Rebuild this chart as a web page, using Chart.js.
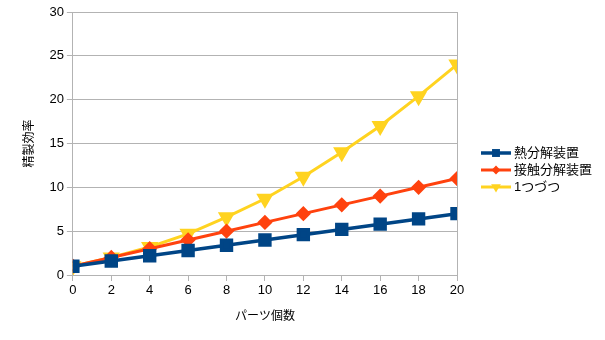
<!DOCTYPE html>
<html>
<head>
<meta charset="utf-8">
<script src="https://cdn.jsdelivr.net/npm/chart.js@4/dist/chart.umd.min.js"></script>
<style>
  html, body { margin: 0; padding: 0; background: #fff; }
  #wrap { width: 605px; height: 340px; }
</style>
</head>
<body>
<div id="wrap"><canvas id="myChart" width="605" height="340"></canvas></div>
<script>
// パーツ個数ごとの精製効率
var partCounts = [0, 2, 4, 6, 8, 10, 12, 14, 16, 18, 20];
var netsuBunkai = [1, 1.6, 2.2, 2.8, 3.4, 4, 4.6, 5.2, 5.8, 6.4, 7];
var sesshokuBunkai = [1, 2, 3, 4, 5, 6, 7, 8, 9, 10, 11];
var hitotsuzutsu = [1, 2, 3.2, 4.7, 6.6, 8.7, 11.2, 14, 17, 20.4, 24];
var seriesNames = ['熱分解装置', '接触分解装置', '1つづつ'];
var yTicks = [0, 5, 10, 15, 20, 25, 30];

const gridGray = '#b3b3b3';
const fontFamily = '"Liberation Sans", "Noto Sans CJK JP", sans-serif';

function toPoints(values) {
    return values.map(function (v, i) { return { x: partCounts[i], y: v }; });
}

const data = {
    datasets: [{
        label: seriesNames[0],
        data: toPoints(netsuBunkai),
        borderColor: '#004586',
        backgroundColor: '#004586',
        borderWidth: 3.5,
        pointStyle: 'rect',
        pointRadius: 7,
        pointHoverRadius: 7
    }, {
        label: seriesNames[1],
        data: toPoints(sesshokuBunkai),
        borderColor: '#ff420e',
        backgroundColor: '#ff420e',
        borderWidth: 3,
        pointStyle: 'rectRot',
        pointRadius: 5.5,
        pointHoverRadius: 5.5
    }, {
        label: seriesNames[2],
        data: toPoints(hitotsuzutsu),
        borderColor: '#ffd320',
        backgroundColor: '#ffd320',
        borderWidth: 3,
        pointStyle: 'triangle',
        rotation: 180,
        pointRadius: 7,
        pointHoverRadius: 7
    }]
};

// 右側の凡例 (線 + マーカー)
const sideLegend = {
    id: 'sideLegend',
    afterDraw(chart) {
        const ctx = chart.ctx;
        const x0 = 481, lineLen = 30, rowY = [153, 170, 187];
        ctx.save();
        ctx.font = '13px ' + fontFamily;
        ctx.textBaseline = 'middle';
        chart.data.datasets.forEach(function (ds, i) {
            const y = rowY[i];
            ctx.strokeStyle = ds.borderColor;
            ctx.lineWidth = ds.borderWidth;
            ctx.beginPath();
            ctx.moveTo(x0, y);
            ctx.lineTo(x0 + lineLen, y);
            ctx.stroke();
            ctx.fillStyle = ds.backgroundColor;
            Chart.helpers.drawPoint(ctx, {
                pointStyle: ds.pointStyle,
                rotation: ds.rotation || 0,
                radius: ds.pointRadius * 0.8,
                borderWidth: 0
            }, x0 + lineLen / 2, y);
            ctx.fillStyle = '#000';
            ctx.fillText(ds.label, x0 + lineLen + 3, y);
        });
        ctx.restore();
    }
};

const config = {
    type: 'line',
    data,
    options: {
        responsive: false,
        animation: false,
        layout: { padding: { top: 12, right: 148, bottom: 12, left: 18 } },
        plugins: {
            legend: { display: false },
            tooltip: { enabled: false }
        },
        scales: {
            x: {
                type: 'linear',
                min: 0,
                max: 20,
                ticks: { stepSize: 2, color: '#000', font: { size: 13, family: fontFamily }, padding: 2 },
                grid: {
                    color: function (c) { return c.tick && c.tick.value === 20 ? gridGray : 'rgba(0,0,0,0)'; },
                    tickColor: gridGray,
                    tickLength: 6,
                    lineWidth: 1
                },
                border: { color: gridGray },
                title: { display: true, text: 'パーツ個数', color: '#000', font: { size: 12, family: fontFamily }, padding: { top: 9 } }
            },
            y: {
                min: 0,
                max: 30,
                afterBuildTicks: function (axis) { axis.ticks = yTicks.map(function (v) { return { value: v }; }); },
                ticks: { color: '#000', font: { size: 13, family: fontFamily }, padding: 3 },
                grid: { color: gridGray, tickColor: gridGray, tickLength: 6, lineWidth: 1 },
                border: { color: gridGray },
                title: { display: true, text: '精製効率', color: '#000', font: { size: 12, family: fontFamily }, padding: { bottom: 10 } }
            }
        }
    },
    plugins: [sideLegend]
};

let myChart = new Chart(document.getElementById('myChart'), config);
</script>
</body>
</html>
